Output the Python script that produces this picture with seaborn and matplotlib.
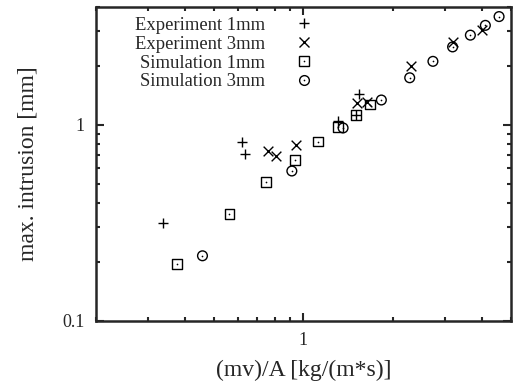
import numpy as np
import pandas as pd
import matplotlib
matplotlib.use("Agg")
import matplotlib.pyplot as plt
import matplotlib.ticker as mticker
from matplotlib.lines import Line2D
from matplotlib.legend_handler import HandlerTuple
import seaborn as sns

# ~~~~~~~~~~~~~~~~~~~~~~~~~~~~~~~~~~~~~~~~~~~~~~~~~~~~~~~~~~~~~~~~~~~~~~~~~~~~~~~~~~
# values (log-log)
exp1_x = [0.337, 0.622, 0.638, 1.31, 1.50, 1.54]
exp1_y = [0.315, 0.817, 0.710, 1.05, 1.12, 1.44]

exp3_x = [0.76, 0.806, 0.947, 1.51, 1.64, 2.30, 3.20, 3.98]
exp3_y = [0.738, 0.691, 0.794, 1.30, 1.31, 1.99, 2.65, 3.05]

sim1_x = [0.375, 0.563, 0.75, 0.938, 1.122, 1.31, 1.50, 1.68]
sim1_y = [0.195, 0.352, 0.512, 0.664, 0.823, 0.977, 1.12, 1.27]

sim3_x = [0.457, 0.914, 1.36, 1.83, 2.28, 2.73, 3.18, 3.65, 4.10, 4.56]
sim3_y = [0.215, 0.582, 0.965, 1.34, 1.74, 2.11, 2.50, 2.87, 3.22, 3.57]

labels = ["Experiment 1mm", "Experiment 3mm", "Simulation 1mm", "Simulation 3mm"]

# ~~~~~~~~~~~~~~~~~~~~~~~~~~~~~~~~~~~~~~~~~~~~~~~~~~~~~~~~~~~~~~~~~~~~~~~~~~~~~~~~~~
sns.set_style("ticks")
plt.rcParams['font.family'] = ['Liberation Serif', 'DejaVu Serif']

fig = plt.figure(figsize=(5.13, 3.83), dpi=100)
ax = fig.add_axes([0.187, 0.162, 0.809, 0.820])

ms = 7
sns.scatterplot(x=exp1_x, y=exp1_y, marker="+", s=ms**2, color="black", linewidth=1.0, ax=ax)
sns.scatterplot(x=exp3_x, y=exp3_y, marker="x", s=ms**2, color="black", linewidth=1.0, ax=ax)
sns.scatterplot(x=sim1_x, y=sim1_y, marker="s", s=ms**2, facecolor="none",
                edgecolor="black", linewidth=1.0, ax=ax)
sns.scatterplot(x=sim3_x, y=sim3_y, marker="o", s=ms**2, facecolor="none",
                edgecolor="black", linewidth=1.0, ax=ax)
# center dots of the open markers
sns.scatterplot(x=sim1_x + sim3_x, y=sim1_y + sim3_y, marker="o", s=1.5,
                color="black", linewidth=0, ax=ax)

ax.set_xscale("log")
ax.set_yscale("log")
ax.set_xlim(0.2, 5)
ax.set_ylim(0.1, 4)

ax.xaxis.set_major_locator(mticker.FixedLocator([1]))
ax.yaxis.set_major_locator(mticker.FixedLocator([0.1, 1]))
ax.xaxis.set_major_formatter(mticker.FuncFormatter(lambda v, p: f"{v:g}"))
ax.yaxis.set_major_formatter(mticker.FuncFormatter(lambda v, p: f"{v:g}"))
ax.xaxis.set_minor_locator(mticker.LogLocator(subs=np.arange(2, 10)))
ax.yaxis.set_minor_locator(mticker.LogLocator(subs=np.arange(2, 10)))
ax.xaxis.set_minor_formatter(mticker.NullFormatter())
ax.yaxis.set_minor_formatter(mticker.NullFormatter())

ax.tick_params(which="both", direction="in", top=True, right=True, width=1.5,
               labelsize=13, pad=8)
ax.tick_params(which="major", length=6)
ax.tick_params(which="minor", length=3)
for s in ax.spines.values():
    s.set_linewidth(1.8)

ax.set_xlabel("(mv)/A [kg/(m*s)]", fontsize=17, labelpad=8)
ax.set_ylabel("max. intrusion [mm]", fontsize=17, labelpad=17)

# legend, gnuplot style: right aligned text, symbol after it
h_plus = Line2D([], [], ls="none", marker="+", ms=ms, mew=1.0, color="black")
h_x = Line2D([], [], ls="none", marker="x", ms=ms, mew=1.0, color="black")
h_sq = Line2D([], [], ls="none", marker="s", ms=ms, mew=1.0, mfc="none", mec="black")
h_ci = Line2D([], [], ls="none", marker="o", ms=ms, mew=1.0, mfc="none", mec="black")
h_dot = Line2D([], [], ls="none", marker="o", ms=1.2, mew=0, color="black")
ax.legend([h_plus, h_x, (h_sq, h_dot), (h_ci, h_dot)], labels,
          handler_map={tuple: HandlerTuple(ndivide=1, pad=0)},
          loc="upper right", bbox_to_anchor=(0.56, 1.016), frameon=False,
          markerfirst=False, fontsize=13.4, labelspacing=0.1,
          handlelength=1.0, handletextpad=1.6, borderpad=0.3)

fig.savefig("out.png", dpi=100)
